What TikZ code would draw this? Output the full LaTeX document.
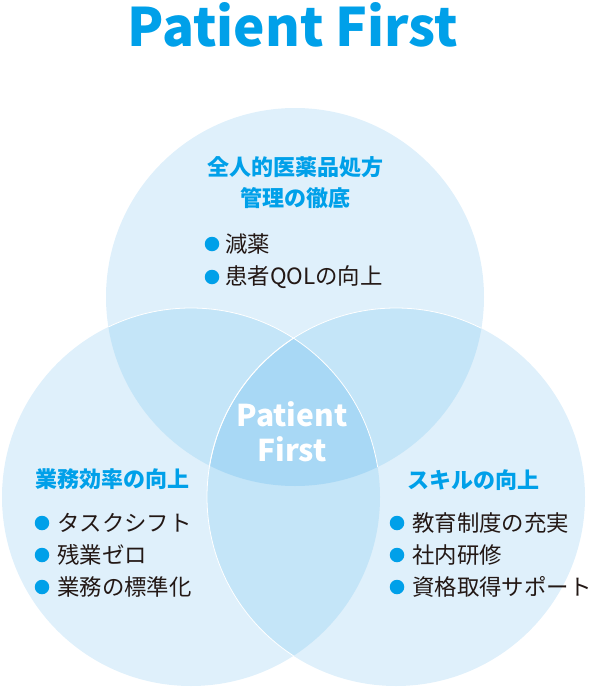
\documentclass[tikz,border=0pt]{standalone}
\usepackage{fontspec}
\setmainfont{Noto Sans CJK JP}
\definecolor{cone}{HTML}{DFF0FB}
\definecolor{ctwo}{HTML}{C4E5F8}
\definecolor{cthree}{HTML}{A8D8F5}
\definecolor{accent}{HTML}{00A0E9}
\definecolor{bodytext}{HTML}{231815}
\tikzset{
  ring/.style={radius=189pt},
  headtext/.style={text=accent, font=\fontsize{22}{31}\selectfont\bfseries, inner sep=0pt, align=center},
  itemtext/.style={text=bodytext, font=\fontsize{22.4}{26}\selectfont, inner sep=0pt, anchor=west},
  dot/.style={circle, fill=accent, minimum size=14.5pt, inner sep=0pt},
  edge/.style={draw=white, line width=0.8pt}
}
\begin{document}
\begin{tikzpicture}[x=1pt,y=-1pt]
\useasboundingbox (0,0) rectangle (591,688);
\coordinate (T) at (295,297);
\coordinate (L) at (191,497);
\coordinate (R) at (396,497);
% single regions
\fill[cone] (T) circle[ring];
\fill[cone] (L) circle[ring];
\fill[cone] (R) circle[ring];
% pair overlaps
\begin{scope}
  \clip (T) circle[ring];
  \fill[ctwo] (L) circle[ring];
  \fill[ctwo] (R) circle[ring];
\end{scope}
\begin{scope}
  \clip (L) circle[ring];
  \fill[ctwo] (R) circle[ring];
\end{scope}
% triple overlap
\begin{scope}
  \clip (T) circle[ring];
  \clip (L) circle[ring];
  \fill[cthree] (R) circle[ring];
\end{scope}
% white edges
\begin{scope}
  \clip (T) circle[ring];
  \draw[edge] (L) circle[ring];
  \draw[edge] (R) circle[ring];
\end{scope}
\begin{scope}
  \clip (L) circle[ring];
  \draw[edge] (R) circle[ring];
\end{scope}
% title
\node[text=accent, font=\fontsize{53}{53}\selectfont\bfseries, inner sep=0pt, text height=40pt, text depth=0pt, anchor=base] (title) at (293,46) {Patient First};
% center
\node[text=white, font=\fontsize{30}{35}\selectfont\bfseries, inner sep=0pt, align=center] (center) at (292,432) {Patient\\First};
% top
\node[headtext] (toph) at (295,183) {全人的医薬品処方\\管理の徹底};
\node[dot] (td1) at (212,244) {};
\node[itemtext] (ti1) at (225,244) {減薬};
\node[dot] (td2) at (212,277) {};
\node[itemtext] (ti2) at (225,277) {患者QOLの向上};
% left
\node[headtext, anchor=west] (lefth) at (35,479) {業務効率の向上};
\node[dot] (ld1) at (42,523) {};
\node[itemtext] (li1) at (57,523) {タスクシフト};
\node[dot] (ld2) at (42,555) {};
\node[itemtext] (li2) at (57,555) {残業ゼロ};
\node[dot] (ld3) at (42,587) {};
\node[itemtext] (li3) at (57,587) {業務の標準化};
% right
\node[headtext, anchor=west] (righth) at (407,480) {スキルの向上};
\node[dot] (rd1) at (397,523) {};
\node[itemtext] (ri1) at (412,523) {教育制度の充実};
\node[dot] (rd2) at (397,555) {};
\node[itemtext] (ri2) at (412,555) {社内研修};
\node[dot] (rd3) at (397,587) {};
\node[itemtext] (ri3) at (412,587) {資格取得サポート};
\end{tikzpicture}
\end{document}
